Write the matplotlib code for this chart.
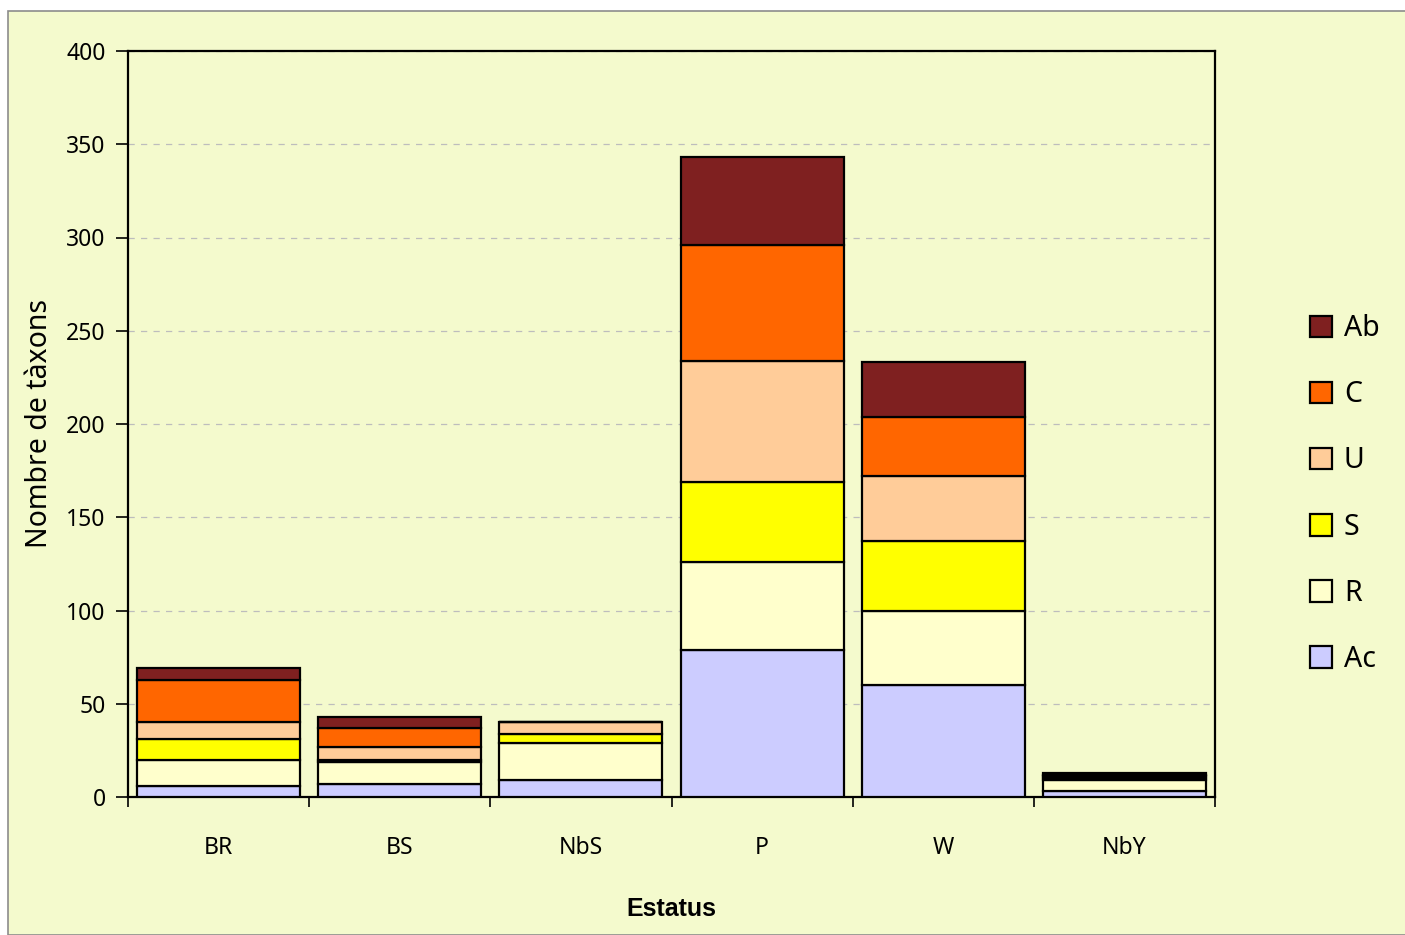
import matplotlib

matplotlib.use("Agg")
import matplotlib.pyplot as plt
from matplotlib.patches import Rectangle
import numpy as np

plt.rcParams["font.family"] = ["Noto Sans", "DejaVu Sans"]

categories = ["BR", "BS", "NbS", "P", "W", "NbY"]
series_names = ["Ac", "R", "S", "U", "C", "Ab"]
ac = [6, 7, 9, 79, 60, 3]
r = [14, 12, 20, 47, 40, 6]
s = [11, 1, 5, 43, 37, 1]
u = [9, 7, 6, 65, 35, 1]
c = [23, 10, 0, 62, 32, 1]
ab = [6, 6, 0, 47, 29, 1]
colors = ["#CCCCFF", "#FFFFCC", "#FFFF00", "#FFCC99", "#FF6600", "#7F2020"]

bg = "#F4FACD"
fig = plt.figure(figsize=(14.05, 9.35), dpi=100, facecolor="white")
fig.patches.append(Rectangle((8 / 1405, 0), 1, 1 - 11 / 935, transform=fig.transFigure,
                             facecolor=bg, edgecolor="#8C8C8C", linewidth=1.2, zorder=-10))

ax = fig.add_axes([128 / 1405, 1 - 797 / 935, 1087 / 1405, 746 / 935])
ax.set_facecolor(bg)

x = np.arange(len(categories))
bottom = np.zeros(len(categories))
handles = []
for name, vals, col in zip(series_names, [ac, r, s, u, c, ab], colors):
    vals = np.array(vals, dtype=float)
    h = ax.bar(x, vals, 0.9, bottom=bottom, color=col, edgecolor="black",
               linewidth=1.6, label=name, zorder=3)
    handles.append(h)
    bottom += vals

ax.set_xlim(-0.5, len(categories) - 0.5)
ax.set_ylim(0, 400)
ax.set_yticks(range(0, 401, 50))
ax.yaxis.grid(True, linestyle=(0, (5, 5)), color="#BDBDBD", linewidth=0.9, zorder=0)
ax.set_xticks(x)
ax.set_xticklabels(categories, fontsize=16.5)
ax.set_xticks(np.arange(-0.5, len(categories), 1), minor=True)
ax.tick_params(axis="x", which="major", length=0, pad=28)
ax.tick_params(axis="x", which="minor", length=7, width=1.2, direction="out")
ax.tick_params(axis="y", length=9, width=1.2, direction="out", labelsize=16.5, pad=7)
for sp in ax.spines.values():
    sp.set_linewidth(1.6)

ax.set_ylabel("Nombre de tàxons", fontsize=20.5, labelpad=9)
ax.set_xlabel("Estatus", fontsize=18, fontweight="bold", labelpad=27,
              family=["Liberation Sans", "DejaVu Sans"])

ax.legend(handles[::-1], series_names[::-1], loc="center left",
          bbox_to_anchor=(1284 / 1405, 1 - 494 / 935), bbox_transform=fig.transFigure,
          frameon=False, fontsize=20.5, handlelength=0.8, handleheight=0.8,
          handletextpad=0.4, labelspacing=1.3)

fig.savefig("out.png", dpi=100, facecolor="white")
